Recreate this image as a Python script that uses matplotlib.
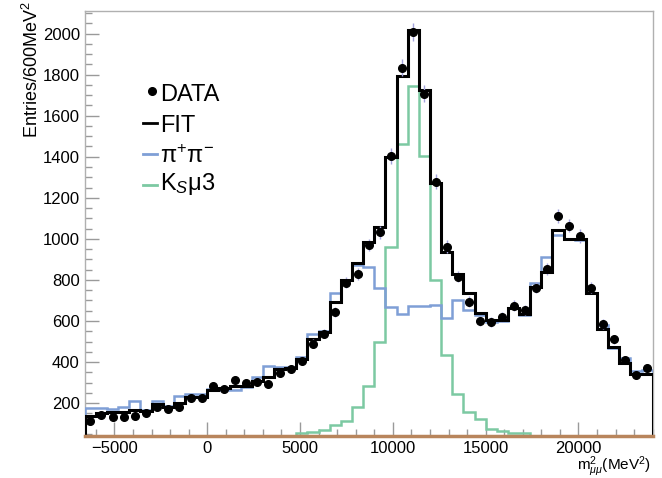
import matplotlib
matplotlib.use("Agg")
import matplotlib.pyplot as plt
from matplotlib.lines import Line2D
from matplotlib.ticker import MultipleLocator
import numpy as np

plt.rcParams["font.family"] = ["Liberation Sans", "DejaVu Sans"]
plt.rcParams["mathtext.fontset"] = "custom"
plt.rcParams["mathtext.rm"] = "Liberation Sans"
plt.rcParams["mathtext.it"] = "Liberation Sans:italic"

# binning: 600 MeV^2 bins from -6600 to 24000
edges = np.arange(-6600, 24001, 600)
centers = 0.5 * (edges[:-1] + edges[1:])

data = [115, 140, 133, 133, 135, 153, 182, 172, 180, 226,
        226, 281, 269, 313, 297, 305, 294, 349, 365, 407,
        490, 538, 645, 787, 827, 970, 1032, 1403, 1834, 2007,
        1708, 1278, 962, 816, 694, 600, 597, 621, 675, 654,
        762, 852, 1111, 1064, 1014, 762, 584, 511, 411, 338,
        370]

fit = [139, 151, 155, 155, 167, 160, 195, 180, 200, 232,
       232, 263, 275, 285, 285, 310, 329, 366, 373, 415,
       514, 545, 694, 800, 881, 986, 1059, 1400, 1792, 2016,
       1727, 1270, 937, 829, 735, 640, 605, 605, 665, 634,
       767, 840, 1043, 998, 998, 735, 560, 475, 395, 343,
       343]

pipi = [174, 174, 172, 180, 212, 167, 212, 184, 234, 245,
        245, 270, 265, 262, 278, 326, 383, 377, 377, 423,
        538, 549, 735, 800, 873, 864, 759, 668, 634, 673,
        673, 677, 613, 704, 655, 629, 597, 602, 665, 629,
        784, 910, 1019, 1000, 994, 735, 581, 467, 419, 354,
        362]

ksmu3 = [0, 0, 0, 0, 0, 0, 0, 0, 0, 0,
         0, 0, 0, 0, 0, 0, 0, 0, 0, 55,
         60, 70, 95, 115, 183, 285, 496, 962, 1461, 1743,
         1403, 800, 435, 245, 159, 122, 76, 66, 56, 54,
         0, 0, 0, 0, 0, 0, 0, 0, 0, 0,
         0]

YMIN, YMAX = 40, 2110
BLUE = "#7f9fd6"
GREEN = "#7cc9a2"
BROWN = "#b8855c"
GRID_GREY = "#9a9a9a"

fig = plt.figure(figsize=(6.62, 4.78), dpi=100)
ax = fig.add_axes([0.128, 0.088, 0.858, 0.889])

ax.stairs(ksmu3, edges, color=GREEN, lw=1.8, zorder=2)
ax.stairs(pipi, edges, color=BLUE, lw=1.8, zorder=3)
ax.stairs(fit, edges, color="black", lw=2.2, zorder=4)
ax.errorbar(centers, data, yerr=np.sqrt(data), fmt="o", color="black",
            ms=5.5, ecolor="#a3a3dc", elinewidth=1, capsize=0, zorder=5)
ax.axhline(YMIN, color=BROWN, lw=2.5, zorder=6, clip_on=False)

ax.set_xlim(edges[0], edges[-1])
ax.set_ylim(YMIN, YMAX)
ax.xaxis.set_major_locator(MultipleLocator(5000))
ax.xaxis.set_minor_locator(MultipleLocator(1000))
ax.yaxis.set_minor_locator(MultipleLocator(50))
ax.set_yticks([200, 400, 600, 800, 1000, 1200, 1400, 1600, 1800, 2000])
ax.tick_params(which="both", direction="in", color=GRID_GREY,
               top=False, right=False, labelsize=12)
ax.tick_params(which="major", length=10, width=1)
ax.tick_params(which="minor", length=5, width=1)
ax.tick_params(axis="x", pad=4)
for sp in ax.spines.values():
    sp.set_color("#b0b0b0")
    sp.set_linewidth(1)

fig.text(0.048, 0.997, "Entries/600MeV$^{2}$", rotation=90,
         ha="center", va="top", fontsize=13)
fig.text(0.984, 0.023, r"m$^{2}_{\mu\mu}$(MeV$^{2}$)", ha="right",
         va="center", fontsize=11)

# legend drawn by hand to match the ROOT layout
W, H = 662.0, 478.0
leg = [("DATA", 95), ("FIT", 126), (r"$\mathrm{\pi}^{+}\mathrm{\pi}^{-}$", 157),
       (r"K$_{S}$$\mathrm{\mu}$3", 184)]
fig.add_artist(Line2D([151.5 / W], [1 - 91 / H], marker="o", ms=5.5,
                      color="black", transform=fig.transFigure))
fig.add_artist(Line2D([143 / W, 157 / W], [1 - 123 / H] * 2, lw=2,
                      color="black", transform=fig.transFigure))
fig.add_artist(Line2D([143 / W, 157 / W], [1 - 154 / H] * 2, lw=2,
                      color=BLUE, transform=fig.transFigure))
fig.add_artist(Line2D([143 / W, 157 / W], [1 - 185 / H] * 2, lw=2,
                      color=GREEN, transform=fig.transFigure))
for label, ypix in leg:
    fig.text(160 / W, 1 - ypix / H, label, ha="left", va="center",
             fontsize=17)

fig.savefig("out.png", dpi=100)
